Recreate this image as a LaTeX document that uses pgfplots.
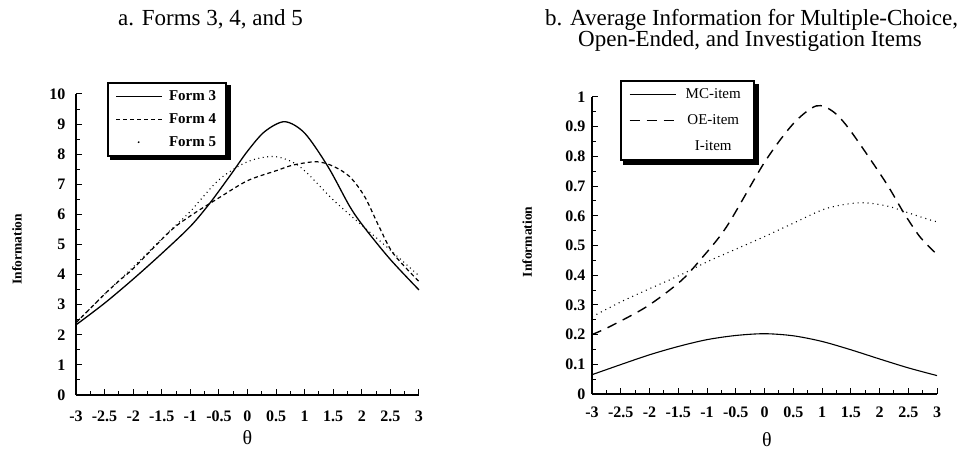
\documentclass[border=0pt]{standalone}
\usepackage{pgfplots}
\pgfplotsset{compat=1.18}
\usepackage{fontspec}
\setmainfont{Liberation Serif}
\usetikzlibrary{calc}
\pgfdeclarelayer{background}
\pgfsetlayers{background,main}

\pgfplotsset{
  myaxis/.style={
    scale only axis,
    axis x line=bottom, axis y line=left,
    axis line style={-, line width=1.4pt},
    tick align=inside,
    major tick length=6pt, minor tick length=3.5pt,
    every tick/.style={line width=1pt, black},
    xmin=-3, xmax=3,
    xtick={-3,-2.5,...,3},
    minor x tick num=1, minor y tick num=1,
    /pgf/number format/assume math mode=true,
    tick label style={font=\fontsize{16}{18}\selectfont\bfseries},
    xlabel={θ},
    xlabel style={font=\fontsize{20}{22}\selectfont, anchor=center},
    ylabel={Information},
    ylabel style={font=\fontsize{13.5}{15}\selectfont\bfseries, anchor=center},
    legend image code/.code={\draw[##1] (0pt,0pt) -- (46pt,0pt);},
    legend cell align=center,
    clip=false,
  },
  mylegend/.style={
    draw=black, line width=1.8pt, fill=white,
    inner xsep=8pt, inner ysep=6pt,
    column sep=4pt,
  }
}

\begin{document}
\begin{tikzpicture}[x=1pt,y=1pt]
\path[use as bounding box] (0pt,0pt) rectangle (962pt,-454pt);

% ---------- panel a ----------
\begin{axis}[myaxis,
  at={(76pt,-395pt)}, anchor=south west,
  width=343pt, height=301pt,
  ymin=0, ymax=10, ytick={0,1,...,10},
  yticklabel style={xshift=-7pt},
  xticklabel style={yshift=-12pt},
  xlabel style={at={(axis description cs:0.50,-0.14)}},
  ylabel style={at={(axis description cs:-0.172,0.485)}},
  legend style={mylegend, name=legA, at={(rel axis cs:0.09,1.04)}, anchor=north west,
    font=\fontsize{15}{17}\selectfont\bfseries, row sep=7.5pt},
]
\addplot[black, line width=1.3pt, smooth] coordinates {
(-3,2.33) (-2.5,3.05) (-2,3.85) (-1.5,4.7) (-1,5.6) (-0.66,6.37) (-0.3,7.3)
(0,8.1) (0.3,8.75) (0.65,9.08) (1,8.7) (1.41,7.58) (1.79,6.26) (2.05,5.55)
(2.5,4.5) (3,3.49)};
\addlegendentry{Form 3}
\addplot[black, line width=1.2pt, dash pattern=on 4pt off 3pt, smooth] coordinates {
(-3,2.4) (-2.5,3.35) (-2.23,3.82) (-2,4.2) (-1.36,5.43) (-1,5.95) (-0.5,6.55)
(0,7.12) (0.5,7.45) (0.8,7.64) (1.21,7.75) (1.5,7.6) (1.79,7.25) (2.05,6.59)
(2.3,5.6) (2.55,4.7) (3,3.77)};
\addlegendentry{Form 4}
\addplot[black, line width=1.1pt, dash pattern=on 1pt off 3.5pt, smooth,
  legend image code/.code={\fill (22pt,0pt) circle (0.8pt);}] coordinates {
(-3,2.4) (-2.5,3.35) (-2,4.25) (-1.36,5.45) (-1,6.1) (-0.5,7.15) (0,7.75)
(0.48,7.92) (0.92,7.58) (1.5,6.48) (2.03,5.59) (2.43,4.93) (3,3.96)};
\addlegendentry{Form 5}
\end{axis}
\begin{pgfonlayer}{background}
\fill[black] ($(legA.south west)+(3.5pt,-3.5pt)$) rectangle ($(legA.north east)+(3.5pt,-3.5pt)$);
\end{pgfonlayer}

% ---------- panel b ----------
\begin{axis}[myaxis,
  at={(592pt,-394pt)}, anchor=south west,
  width=345pt, height=297pt,
  ymin=0, ymax=1, ytick={0,0.1,...,1},
  yticklabels={0,0.1,0.2,0.3,0.4,0.5,0.6,0.7,0.8,0.9,1},
  yticklabel style={xshift=-3pt},
  xticklabel style={yshift=-9pt},
  xlabel style={at={(axis description cs:0.507,-0.155)}},
  ylabel style={at={(axis description cs:-0.188,0.512)}},
  legend style={mylegend, name=legB, at={(rel axis cs:0.081,1.057)}, anchor=north west,
    font=\fontsize{15}{17}\selectfont, row sep=10.5pt},
]
\addplot[black, line width=1.1pt, smooth] coordinates {
(-3,0.065) (-2.5,0.099) (-2,0.132) (-1.5,0.16) (-1,0.183) (-0.5,0.197)
(0,0.203) (0.5,0.196) (1,0.177) (1.5,0.149) (2,0.118) (2.5,0.088) (3,0.062)};
\addlegendentry{\makebox[62pt]{MC-item}}
\addplot[black, line width=1.4pt, dash pattern=on 10pt off 7pt, smooth] coordinates {
(-3,0.2) (-2.69,0.227) (-2.05,0.294) (-1.47,0.378) (-1.12,0.451) (-0.66,0.563)
(0,0.78) (0.5,0.91) (0.9,0.97) (1.2,0.95) (1.5,0.885) (2.1,0.715) (2.41,0.614)
(2.7,0.53) (3,0.47)};
\addlegendentry{\makebox[62pt]{OE-item}}
\addplot[black, line width=1.1pt, dash pattern=on 1pt off 4pt, smooth,
  legend image code/.code={}] coordinates {
(-3,0.26) (-2.5,0.31) (-2.05,0.35) (-1.47,0.40) (-1,0.445) (-0.66,0.474)
(0,0.53) (0.5,0.575) (1.08,0.625) (1.66,0.644) (2.13,0.633) (2.5,0.61)
(2.88,0.586) (3,0.58)};
\addlegendentry{\makebox[62pt]{I-item}}
\end{axis}
\begin{pgfonlayer}{background}
\fill[black] ($(legB.south west)+(3.5pt,-3.5pt)$) rectangle ($(legB.north east)+(3.5pt,-3.5pt)$);
\end{pgfonlayer}

% ---------- titles ----------
\node[anchor=base west, inner sep=0pt, font=\fontsize{23}{26}\selectfont]
  at (118pt,-26pt) {a. Forms 3, 4, and 5};
\node[anchor=base west, inner sep=0pt, font=\fontsize{23}{26}\selectfont]
  at (545pt,-26pt) {b. Average Information for Multiple-Choice,};
\node[anchor=base west, inner sep=0pt, font=\fontsize{23}{26}\selectfont]
  at (578pt,-47pt) {Open-Ended, and Investigation Items};
\end{tikzpicture}
\end{document}
